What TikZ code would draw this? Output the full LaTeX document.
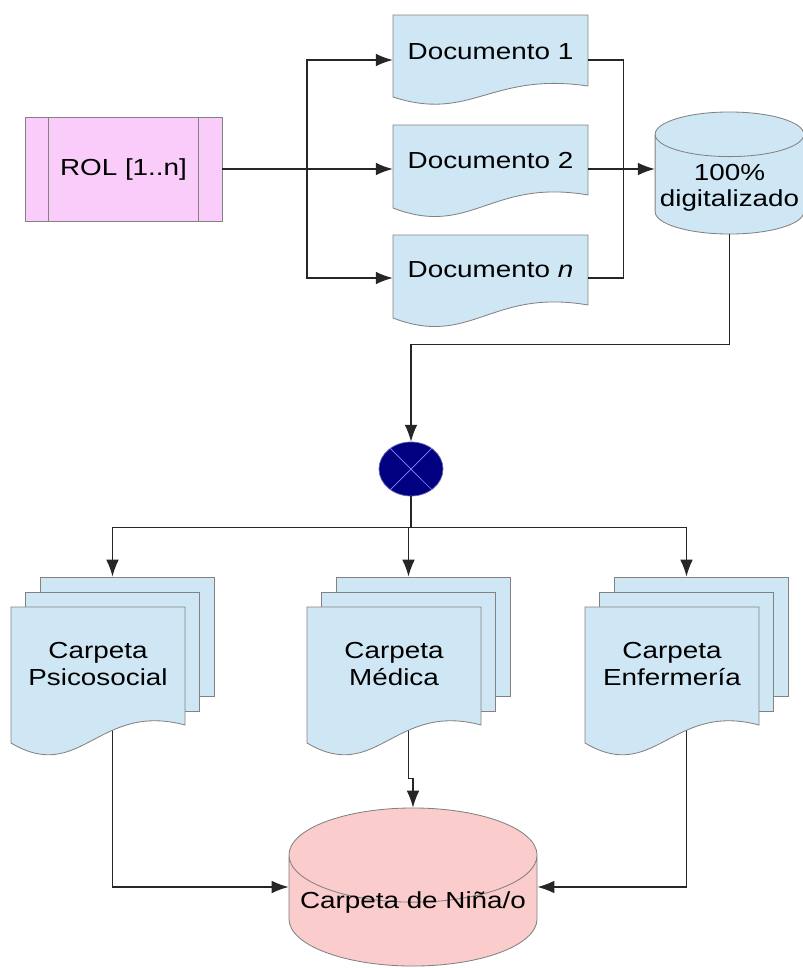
\documentclass[tikz,border=0pt]{standalone}
\usepackage{fontspec}
\setmainfont[FakeStretch=1.2]{Liberation Sans}
\usetikzlibrary{arrows.meta}
\usetikzlibrary{shapes}
\usetikzlibrary{backgrounds}

\definecolor{docblue}{RGB}{207,231,245}
\definecolor{rolpink}{RGB}{250,204,250}
\definecolor{ninopink}{RGB}{250,204,204}
\definecolor{mixnavy}{RGB}{0,0,128}
\definecolor{edgegray}{RGB}{130,130,130}

\tikzset{
  label text/.style={font=\fontsize{16.5}{18.5}\selectfont, align=center, text=black},
  doc text/.style={label text, inner sep=0pt, minimum width=4.875cm, minimum height=2.2cm,
                   text height=11.5pt, text depth=12pt},
  sheet/.style={draw=edgegray, fill=docblue, line width=0.6pt},
  link/.style={draw=black!85, line width=0.85pt},
}

% document shape with a wavy lower edge: left, top, width, height, wave
\newcommand{\wavebox}[5]{%
  \path[sheet] (#1,#2) -- (#1+#3,#2) -- (#1+#3,#2+#4)
    .. controls (#1+0.5*#3,#2+#4-1.3*#5) and (#1+0.4*#3,#2+#4+3.3*#5)
    .. (#1,#2+#4+#5) -- cycle;}

% stack of three sheets: name, left of front sheet, text
\newcommand{\carpeta}[3]{%
  \node[sheet, minimum width=4.35cm, minimum height=2.975cm] (#1-back) at (#2+116,636.5) {};
  \node[sheet, minimum width=4.35cm, minimum height=2.975cm] (#1-mid) at (#2+101.5,651.5) {};
  \wavebox{#2}{607}{174}{118}{18}
  \node[label text] (#1) at (#2+87,664) {#3};}

\begin{document}
\begin{tikzpicture}[x=0.025cm, y=-0.025cm, >={Latex[length=12pt,width=9pt]}]
    \useasboundingbox (0,0) rectangle (803,968);

    % role and documents
    \node[draw=edgegray, fill=rolpink, line width=0.6pt, label text,
          minimum width=4.925cm, minimum height=2.6cm] (rol) at (123.5,169) {ROL [1..n]};
    \draw[edgegray, line width=0.6pt] ([xshift=0.59cm]rol.north west) -- ([xshift=0.59cm]rol.south west);
    \draw[edgegray, line width=0.6pt] ([xshift=-0.59cm]rol.north east) -- ([xshift=-0.59cm]rol.south east);

    \wavebox{393}{15}{195}{71}{11}
    \node[doc text] (doc1) at (490.5,60) {Documento 1};
    \wavebox{393}{125}{195}{70}{13}
    \node[doc text] (doc2) at (490.5,169) {Documento 2};
    \wavebox{393}{235}{195}{70}{13}
    \node[doc text] (docn) at (490.5,278) {Documento \textit{n}};

    \node[cylinder, shape border rotate=90, aspect=0.3, sheet, label text,
          minimum width=3.625cm, minimum height=3.05cm, anchor=shape center] (digital) at (729.5,173) {100\%\\digitalizado};

    \node[ellipse, fill=mixnavy, draw=mixnavy!60!white, line width=0.5pt,
          minimum width=1.6cm, minimum height=1.35cm] (mix) at (411,469) {};
    \draw[blue!45!white, line width=0.5pt] (mix.135) -- (mix.-45) (mix.45) -- (mix.-135);

    % folders
    \carpeta{psico}{11}{Carpeta\\Psicosocial}
    \carpeta{medica}{307}{Carpeta\\Médica}
    \carpeta{enfer}{585}{Carpeta\\Enfermería}

    \node[cylinder, shape border rotate=90, aspect=0.4, draw=edgegray, fill=ninopink, line width=0.6pt,
          label text, minimum width=6.2cm, minimum height=3.95cm, anchor=shape center] (nino) at (413,887)
          {\raisebox{6pt}[0pt][0pt]{Carpeta de Niña/o}};

    % connectors
    \coordinate (split) at (307,169);
    \draw[link,->] (rol.east) -- (doc2.west);
    \draw[link,->] (split) |- (doc1.west);
    \draw[link,->] (split) |- (docn.west);
    \draw[link] (doc1.east) -- ++(35,0) |- (docn.east);
    \draw[link,->] (doc2.east) -- (digital.west |- doc2.east);
    \draw[link,->] (digital.south) -- ++(0,110) -| (mix.north);

    \draw[link] (mix.south) -- ++(0,31) coordinate (fork);
    \draw[link] (fork -| psico-mid.north) -- (fork -| enfer-mid.north);
    \foreach \folder in {psico,medica,enfer}
        \draw[link,->] (fork -| \folder-mid.north) -- (\folder-back.north -| \folder-mid.north);

    \begin{scope}[on background layer]
        \draw[link,->] (psico-mid.south) |- (nino.west |- nino.shape center);
        \draw[link,->] (medica-mid.south) -- ++(0,67) -| (nino.north);
        \draw[link,->] (enfer-mid.south) |- (nino.east |- nino.shape center);
    \end{scope}

\end{tikzpicture}
\end{document}
